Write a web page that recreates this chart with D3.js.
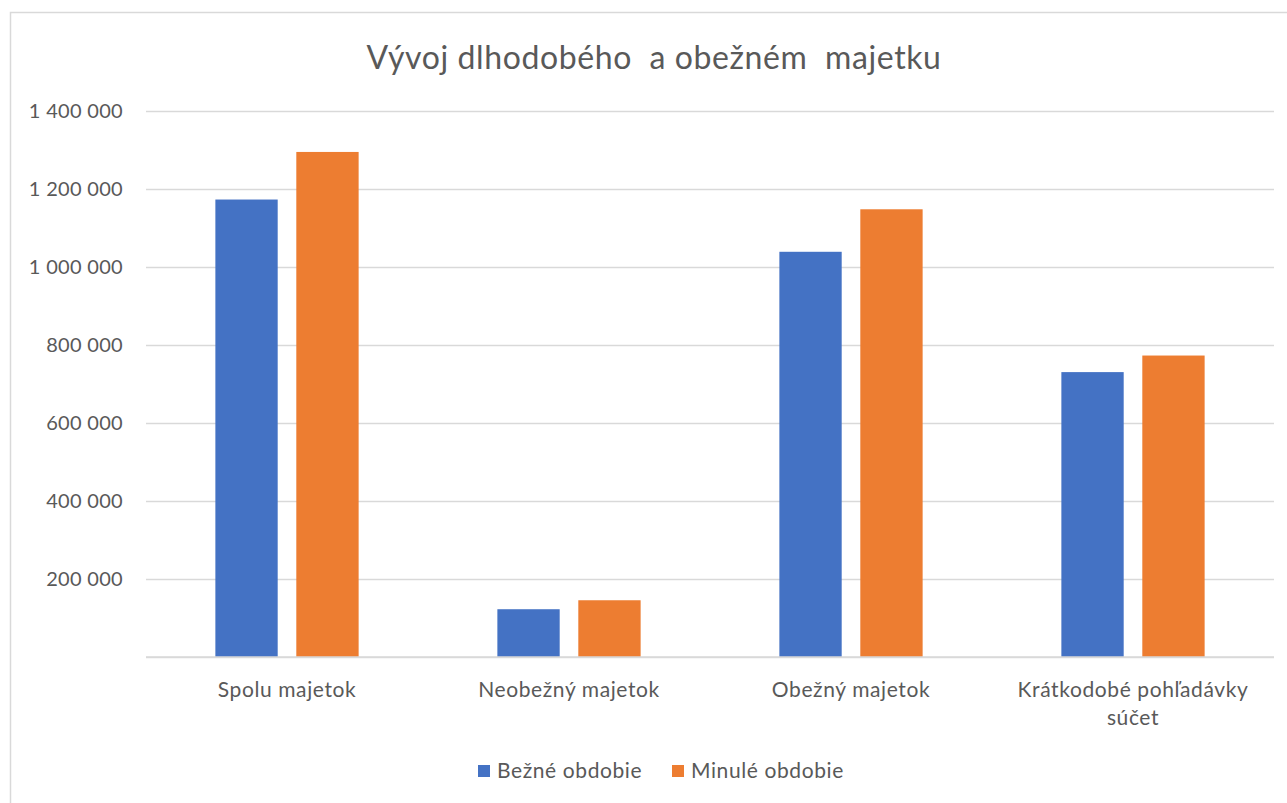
<!DOCTYPE html>
<html><head><meta charset="utf-8">
<script src="https://cdn.jsdelivr.net/npm/d3@7"></script>
<style>
html,body{margin:0;padding:0;background:#fff;}
svg{display:block;font-family:Lato,"Open Sans",sans-serif;}
</style></head>
<body>
<svg id="chart" width="1287" height="803"></svg>
<script>
const title = "Vývoj dlhodobého  a obežném  majetku";
const categories = [["Spolu majetok"], ["Neobežný majetok"], ["Obežný majetok"], ["Krátkodobé pohľadávky", "súčet"]];
const seriesNames = ["Bežné obdobie", "Minulé obdobie"];
const bezneObdobie = [1173000, 122500, 1039000, 730500];
const minuleObdobie = [1295000, 145500, 1148000, 773000];
const yTicks = [0, 200000, 400000, 600000, 800000, 1000000, 1200000, 1400000];
const colors = ["#4472C4", "#ED7D31"];

const svg = d3.select("#chart");
const plot = {left: 146, right: 1274, top: 111, bottom: 657};
const textColor = "#595959";

// frame
svg.append("rect").attr("x", 10.5).attr("y", 12.5).attr("width", 1300).attr("height", 820)
  .attr("fill", "#fff").attr("stroke", "#d9d9d9").attr("stroke-width", 1.5);

svg.append("text").attr("x", 654).attr("y", 69).attr("text-anchor", "middle")
  .attr("font-size", 32).attr("letter-spacing", 0.6).attr("fill", textColor)
  .style("white-space", "pre").text(title);

const y = d3.scaleLinear().domain([0, 1400000]).range([plot.bottom, plot.top]);
const x0 = d3.scaleBand().domain(d3.range(categories.length)).range([plot.left, plot.right]).padding(0);
const x1 = d3.scaleBand().domain(d3.range(seriesNames.length)).range([0, x0.bandwidth()])
  .paddingInner(0.23).paddingOuter(0.857);

const fmt = v => v === 0 ? "" : d3.format(",")(v).replace(/,/g, " ");

// gridlines + y labels
const yAxis = d3.axisLeft(y).tickValues(yTicks).tickSize(-(plot.right - plot.left)).tickPadding(23).tickFormat(fmt);
const gy = svg.append("g").attr("transform", `translate(${plot.left},0)`).call(yAxis);
gy.select(".domain").remove();
gy.selectAll(".tick line").attr("stroke", "#d9d9d9").attr("stroke-width", 1.5);
gy.selectAll(".tick text").attr("fill", textColor).attr("font-size", 20).attr("letter-spacing", 0.3)
  .attr("font-family", "Lato,sans-serif");

const data = [bezneObdobie, minuleObdobie];
const groups = svg.append("g").selectAll("g").data(categories).join("g")
  .attr("transform", (d, i) => `translate(${x0(i)},0)`);
groups.selectAll("rect").data((d, i) => data.map((s, k) => ({k, v: s[i]}))).join("rect")
  .attr("x", d => x1(d.k)).attr("width", x1.bandwidth())
  .attr("y", d => y(d.v)).attr("height", d => y(0) - y(d.v))
  .attr("fill", d => colors[d.k]);

// baseline on top
svg.append("line").attr("x1", plot.left).attr("x2", plot.right).attr("y1", y(0)).attr("y2", y(0))
  .attr("stroke", "#d9d9d9").attr("stroke-width", 1.5);

// category labels
const xAxis = d3.axisBottom(x0).tickSize(0).tickPadding(0).tickFormat(() => "");
const gx = svg.append("g").attr("transform", `translate(0,${plot.bottom})`).call(xAxis);
gx.select(".domain").remove();
gx.selectAll(".tick").each(function(d) {
  const t = d3.select(this).append("text").attr("fill", textColor).attr("font-size", 21)
    .attr("letter-spacing", 0.6).attr("text-anchor", "middle").attr("font-family", "Lato,sans-serif");
  categories[d].forEach((line, j) => {
    t.append("tspan").attr("x", 0).attr("y", 40 + j * 28).text(line);
  });
});

// legend
const legend = svg.append("g");
const legendX = [478, 672];
seriesNames.forEach((n, k) => {
  legend.append("rect").attr("x", legendX[k]).attr("y", 765).attr("width", 12).attr("height", 12).attr("fill", colors[k]);
  legend.append("text").attr("x", legendX[k] + 19).attr("y", 778).attr("font-size", 21)
    .attr("letter-spacing", 0.6).attr("fill", textColor).text(n);
});
</script>
</body></html>
